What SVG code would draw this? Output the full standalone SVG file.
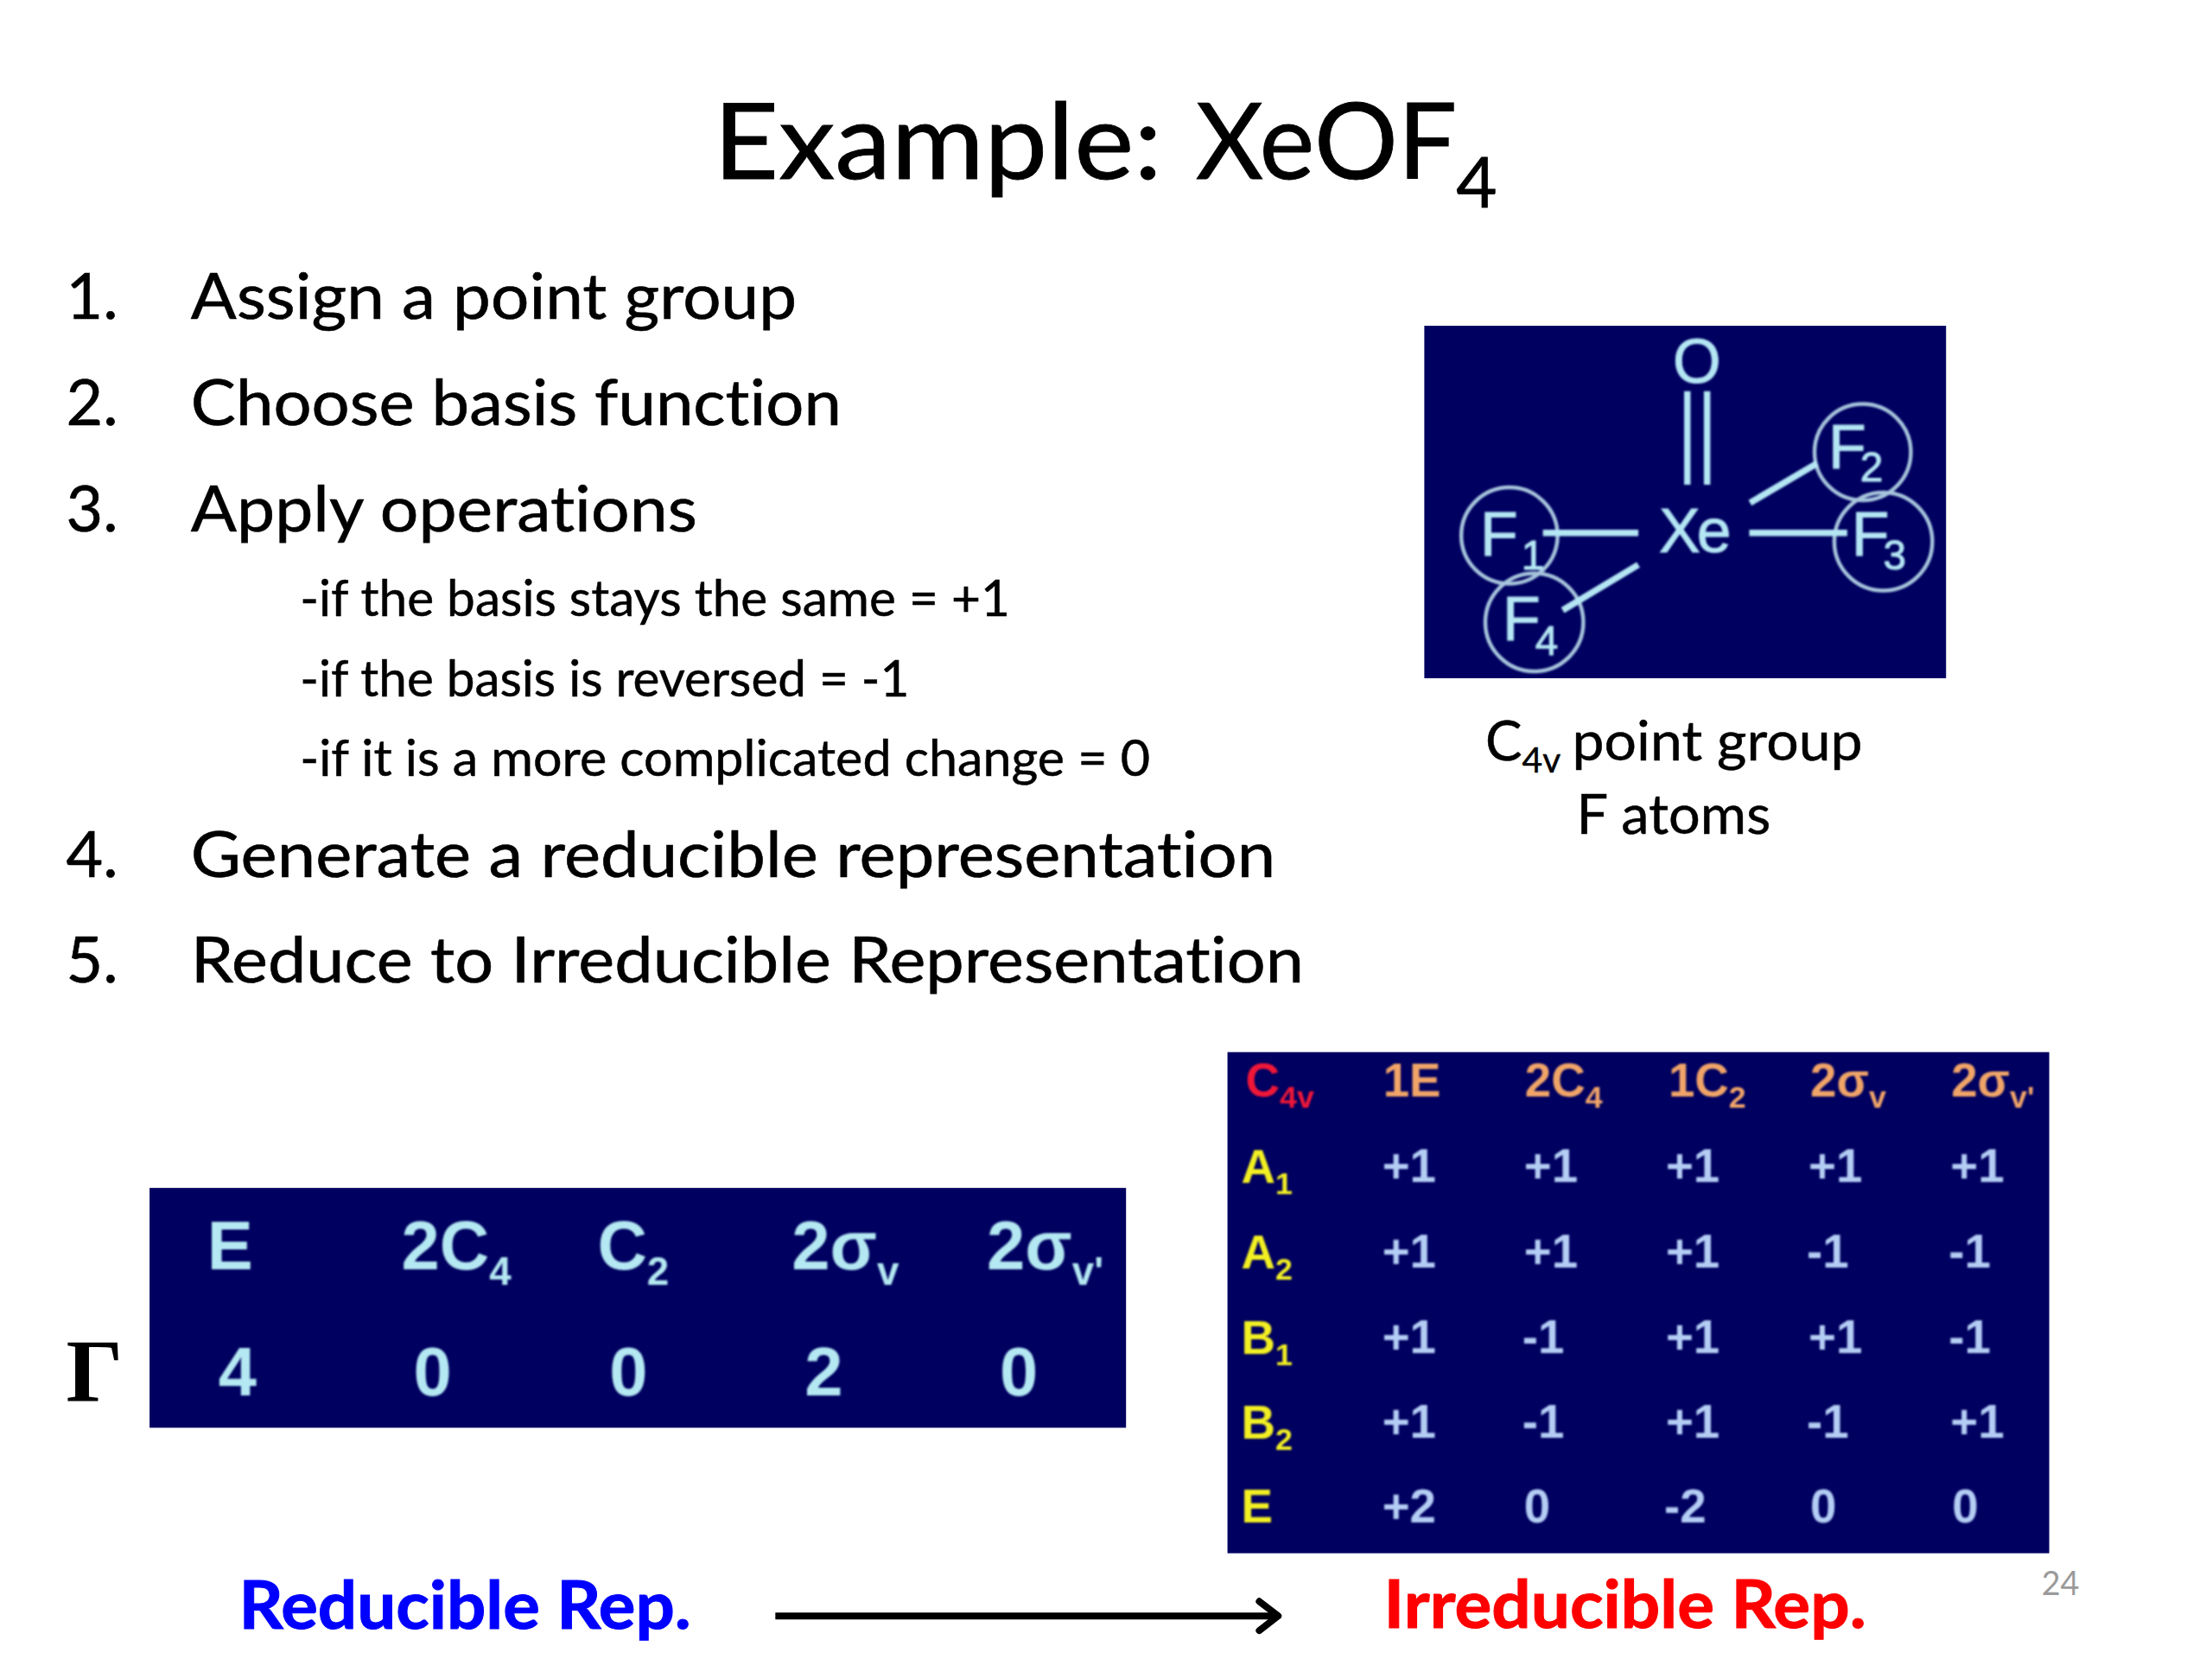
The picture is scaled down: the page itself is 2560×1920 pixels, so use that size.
<svg xmlns="http://www.w3.org/2000/svg" width="2560" height="1920" viewBox="0 0 2560 1920">
<defs>
<filter id="soft" x="-5%" y="-5%" width="110%" height="110%"><feGaussianBlur stdDeviation="1.2"/></filter>
<marker id="arrow" markerUnits="userSpaceOnUse" markerWidth="40" markerHeight="44" refX="34" refY="22" orient="auto"><path d="M12 5 L34 22 L12 39" fill="none" stroke="#000" stroke-width="8" stroke-linecap="round" stroke-linejoin="round"/></marker>
</defs>
<style>
text{font-family:"Lato","Noto Sans",sans-serif;fill:#000;font-variant-ligatures:none}
.panel{fill:#000060}
.item{font-size:74px;stroke:#000;stroke-width:.6}
.sub{font-size:59px;stroke:#000;stroke-width:.5}
.cap{font-size:64px;stroke:#000;stroke-width:.5}
.head{font-size:122px;stroke:#000;stroke-width:.8}
.rep{font-size:76px;font-weight:700}
.ras{font-family:"Liberation Sans",Arial,sans-serif;font-weight:700}
.r3{font-size:80px;fill:#b4e8f2}
.r2{font-size:55px}
.hd{fill:#f0a468}
.rw{fill:#f2f020}
.val{fill:#b4cdf4}
.mol{font-family:"Liberation Sans",Arial,sans-serif;font-size:72px;fill:#b4e6f4;stroke:#b4e6f4;stroke-width:1}
.mols{font-size:48px}
.ring{fill:none;stroke:#a6c4dc;stroke-width:4.5}
.bond{stroke:#b4e6f4;stroke-width:7.5;fill:none}
</style>
<rect width="2560" height="1920" fill="#fff"/>
<g transform="scale(0.9948)">
<g id="title"><text class="head" x="830" y="208" textLength="522" lengthAdjust="spacingAndGlyphs">Example:</text><text class="head" x="1391" y="208" textLength="304" lengthAdjust="spacingAndGlyphs">XeOF</text><text class="head" x="1694" y="241" style="font-size:82px">4</text></g>

<g id="steps">
<text class="item" x="77" y="371">1.</text><text class="item" x="222" y="371" textLength="705" lengthAdjust="spacingAndGlyphs">Assign a point group</text>
<text class="item" x="77" y="495">2.</text><text class="item" x="222" y="495" textLength="757" lengthAdjust="spacingAndGlyphs">Choose basis function</text>
<text class="item" x="77" y="618">3.</text><text class="item" x="222" y="618" textLength="589" lengthAdjust="spacingAndGlyphs">Apply operations</text>
<text class="sub" x="349" y="717" textLength="826" lengthAdjust="spacingAndGlyphs">-if the basis stays the same = +1</text>
<text class="sub" x="349" y="810" textLength="709" lengthAdjust="spacingAndGlyphs">-if the basis is reversed = -1</text>
<text class="sub" x="349" y="903" textLength="989" lengthAdjust="spacingAndGlyphs">-if it is a more complicated change = 0</text>
<text class="item" x="77" y="1020">4.</text><text class="item" x="222" y="1020" textLength="1262" lengthAdjust="spacingAndGlyphs">Generate a reducible representation</text>
<text class="item" x="77" y="1143">5.</text><text class="item" x="222" y="1143" textLength="1295" lengthAdjust="spacingAndGlyphs">Reduce to Irreducible Representation</text>
</g>

<g id="molecule">
<rect class="panel" x="1657" y="379" width="607" height="410"/>
<g filter="url(#soft)">
<circle class="ring" cx="1756" cy="623" r="56"/><circle class="ring" cx="2167" cy="526" r="56"/><circle class="ring" cx="2191" cy="630" r="57"/><circle class="ring" cx="1785" cy="724" r="57"/>
<path class="bond" d="M1795 620H1906M2035 620H2149M2036 585L2114 539M1818 710L1906 657M1963 455V564M1986 455V564"/>
<text class="mol" x="1974" y="445" text-anchor="middle">O</text>
<text class="mol" x="1930" y="642" textLength="84">Xe</text>
<text class="mol" x="1722" y="646">F<tspan class="mols" x="1770" y="662">1</tspan></text>
<text class="mol" x="2127" y="545">F<tspan class="mols" x="2164" y="560">2</tspan></text>
<text class="mol" x="2154" y="646">F<tspan class="mols" x="2191" y="662">3</tspan></text>
<text class="mol" x="1748" y="745">F<tspan class="mols" x="1786" y="762">4</tspan></text>
</g>
</g>

<g id="caption">
<text class="cap" x="1728" y="885">C<tspan font-size="41" dy="14">4v</tspan><tspan dy="-14" x="1829" textLength="338" lengthAdjust="spacingAndGlyphs">point group</tspan></text>
<text class="cap" x="1834" y="970" textLength="226" lengthAdjust="spacingAndGlyphs">F atoms</text>
</g>

<g id="gamma"><text x="77" y="1630" font-size="104" font-weight="700" style="font-family:'Liberation Serif',serif">Γ</text></g>

<g id="reducible-table">
<rect class="panel" x="174" y="1382" width="1136" height="279"/>
<g filter="url(#soft)">
<text class="ras r3" x="241" y="1477">E</text>
<text class="ras r3" x="467" y="1477">2C<tspan font-size="46" dy="18">4</tspan></text>
<text class="ras r3" x="695" y="1477">C<tspan font-size="46" dy="18">2</tspan></text>
<text class="ras r3" x="921" y="1477">2σ<tspan font-size="46" dy="18">v</tspan></text>
<text class="ras r3" x="1148" y="1477">2σ<tspan font-size="46" dy="18">v'</tspan></text>
<text class="ras r3" x="254" y="1623">4</text>
<text class="ras r3" x="481" y="1623">0</text>
<text class="ras r3" x="709" y="1623">0</text>
<text class="ras r3" x="936" y="1623">2</text>
<text class="ras r3" x="1163" y="1623">0</text>
</g>
</g>

<g id="character-table">
<rect class="panel" x="1428" y="1224" width="956" height="583"/>
<g filter="url(#soft)">
<text class="ras r2" x="1449" y="1276" style="fill:#f01838">C<tspan font-size="36" dy="13">4v</tspan></text>
<text class="ras r2 hd" x="1609" y="1276">1E</text>
<text class="ras r2 hd" x="1774" y="1276">2C<tspan font-size="36" dy="13">4</tspan></text>
<text class="ras r2 hd" x="1941" y="1276">1C<tspan font-size="36" dy="13">2</tspan></text>
<text class="ras r2 hd" x="2106" y="1276">2σ<tspan font-size="36" dy="13">v</tspan></text>
<text class="ras r2 hd" x="2270" y="1276">2σ<tspan font-size="36" dy="13">v'</tspan></text>

<text class="ras r2 rw" x="1444" y="1376">A<tspan font-size="36" dy="13">1</tspan></text>
<text class="ras r2 rw" x="1444" y="1476">A<tspan font-size="36" dy="13">2</tspan></text>
<text class="ras r2 rw" x="1444" y="1575">B<tspan font-size="36" dy="13">1</tspan></text>
<text class="ras r2 rw" x="1444" y="1674">B<tspan font-size="36" dy="13">2</tspan></text>
<text class="ras r2 rw" x="1444" y="1771">E</text>

<text class="ras r2 val" x="1608" y="1375">+1</text><text class="ras r2 val" x="1773" y="1375">+1</text><text class="ras r2 val" x="1938" y="1375">+1</text><text class="ras r2 val" x="2104" y="1375">+1</text><text class="ras r2 val" x="2269" y="1375">+1</text>
<text class="ras r2 val" x="1608" y="1475">+1</text><text class="ras r2 val" x="1773" y="1475">+1</text><text class="ras r2 val" x="1938" y="1475">+1</text><text class="ras r2 val" x="2102" y="1475">-1</text><text class="ras r2 val" x="2267" y="1475">-1</text>
<text class="ras r2 val" x="1608" y="1574">+1</text><text class="ras r2 val" x="1771" y="1574">-1</text><text class="ras r2 val" x="1938" y="1574">+1</text><text class="ras r2 val" x="2104" y="1574">+1</text><text class="ras r2 val" x="2267" y="1574">-1</text>
<text class="ras r2 val" x="1608" y="1673">+1</text><text class="ras r2 val" x="1771" y="1673">-1</text><text class="ras r2 val" x="1938" y="1673">+1</text><text class="ras r2 val" x="2102" y="1673">-1</text><text class="ras r2 val" x="2269" y="1673">+1</text>
<text class="ras r2 val" x="1608" y="1771">+2</text><text class="ras r2 val" x="1773" y="1771">0</text><text class="ras r2 val" x="1936" y="1771">-2</text><text class="ras r2 val" x="2106" y="1771">0</text><text class="ras r2 val" x="2271" y="1771">0</text>
</g>
</g>

<g id="reducible-label"><text class="rep" x="278" y="1895" textLength="526" lengthAdjust="spacingAndGlyphs" style="fill:#0000ff;stroke:#0000ff;stroke-width:1">Reducible Rep.</text></g>
<g id="irreducible-label"><text class="rep" x="1610" y="1894" textLength="561" lengthAdjust="spacingAndGlyphs" style="fill:#ff0000;stroke:#ff0000;stroke-width:1">Irreducible Rep.</text></g>
<g id="connectors"><line x1="902" y1="1880" x2="1487" y2="1880" stroke="#000" stroke-width="8" marker-end="url(#arrow)"/></g>
<g id="page-number"><text x="2375" y="1856" font-size="38" style="fill:#9a9a9a">24</text></g>
</g>
</svg>
